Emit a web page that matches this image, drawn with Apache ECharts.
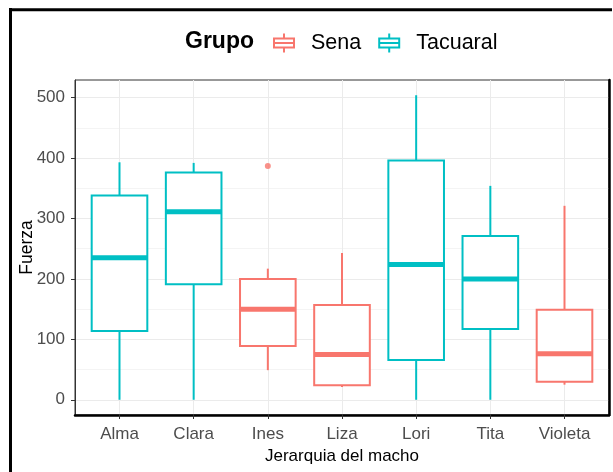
<!DOCTYPE html>
<html>
<head>
<meta charset="utf-8">
<script src="https://cdn.jsdelivr.net/npm/echarts@6/dist/echarts.min.js"></script>
<style>
  html, body { margin: 0; padding: 0; background: #fff; }
  #chart { width: 613px; height: 472px; }
</style>
</head>
<body>
<div id="chart"></div>
<script>
// Fuerza por hembra, agrupada por grupo
const categories = ['Alma', 'Clara', 'Ines', 'Liza', 'Lori', 'Tita', 'Violeta'];
const groups = ['Tacuaral', 'Tacuaral', 'Sena', 'Sena', 'Tacuaral', 'Tacuaral', 'Sena'];
const whiskerLow = [0, 0, 49, 21, 0, 0, 25];
const q1 = [114, 191, 89, 24, 66, 117, 30];
const median = [235, 311, 150, 75, 224, 200, 76];
const q3 = [338, 376, 200, 157, 396, 271, 149];
const whiskerHigh = [393, 392, 217, 243, 504, 354, 321];
const outlierCategory = ['Ines'];
const outlierValue = [387];
const yTicks = [0, 100, 200, 300, 400, 500];
const yMinorTicks = [50, 150, 250, 350, 450];

const FONT = '"Liberation Sans", Arial, sans-serif';
const colors = { Sena: '#F8766D', Tacuaral: '#00BFC4' };

// continuous padding of 5% around the data range, like ggplot's default expansion
const allVals = whiskerLow.concat(whiskerHigh, outlierValue);
const dMin = Math.min.apply(null, allVals);
const dMax = Math.max.apply(null, allVals);
const yLo = dMin - (dMax - dMin) * 0.05;
const yHi = dMax + (dMax - dMin) * 0.05;
const xPositions = categories.map((c, i) => i);

function rowsFor(group) {
  const rows = [];
  categories.forEach((c, i) => {
    if (groups[i] === group) {
      rows.push([i, whiskerLow[i], q1[i], median[i], q3[i], whiskerHigh[i]]);
    }
  });
  return rows;
}

// box + whiskers + thick median, no whisker caps
function renderBox(params, api) {
  const x = api.value(0);
  const half = api.size([1, 0])[0] * 0.375;
  const pLow = api.coord([x, api.value(1)]);
  const pQ1 = api.coord([x, api.value(2)]);
  const pMed = api.coord([x, api.value(3)]);
  const pQ3 = api.coord([x, api.value(4)]);
  const pHigh = api.coord([x, api.value(5)]);
  const color = api.visual('color');
  const lineStyle = { stroke: color, lineWidth: 2 };
  return {
    type: 'group',
    children: [
      { type: 'line', shape: { x1: pHigh[0], y1: pHigh[1], x2: pQ3[0], y2: pQ3[1] }, style: lineStyle },
      { type: 'line', shape: { x1: pQ1[0], y1: pQ1[1], x2: pLow[0], y2: pLow[1] }, style: lineStyle },
      { type: 'rect', shape: { x: pQ3[0] - half, y: pQ3[1], width: half * 2, height: pQ1[1] - pQ3[1] },
        style: { fill: '#fff', stroke: color, lineWidth: 2 } },
      { type: 'line', shape: { x1: pMed[0] - half, y1: pMed[1], x2: pMed[0] + half, y2: pMed[1] },
        style: { stroke: color, lineWidth: 5 } }
    ]
  };
}

const boxIcon = 'path://M1,5 H21 V14 H1 Z M1,9.5 H21 M11,0 V5 M11,14 V19';

const chart = echarts.init(document.getElementById('chart'), null, { renderer: 'canvas' });
chart.setOption({
  animation: false,
  backgroundColor: '#fff',
  title: {
    text: 'Grupo',
    left: 185,
    top: 30,
    padding: 0,
    textStyle: { fontFamily: FONT, fontWeight: 'bold', fontSize: 23, color: '#000' }
  },
  legend: {
    left: 273,
    top: 32,
    padding: 0,
    itemWidth: 20,
    itemHeight: 19,
    itemGap: 17,
    textStyle: { fontFamily: FONT, fontSize: 21.5, color: '#000', padding: [0, 0, 0, 12] },
    data: [
      { name: 'Sena', icon: boxIcon, itemStyle: { color: '#fff', borderColor: colors.Sena, borderWidth: 2 } },
      { name: 'Tacuaral', icon: boxIcon, itemStyle: { color: '#fff', borderColor: colors.Tacuaral, borderWidth: 2 } }
    ]
  },
  grid: {
    left: 75, right: 4, top: 80, bottom: 57,
    show: true, borderColor: '#333', borderWidth: 1, backgroundColor: 'transparent'
  },
  xAxis: {
    type: 'value',
    min: -0.6,
    max: categories.length - 1 + 0.6,
    axisLine: { show: true, onZero: false, lineStyle: { color: '#000', width: 2.5 } },
    axisTick: { show: true, length: 4, customValues: xPositions, lineStyle: { color: '#333' } },
    axisLabel: {
      customValues: xPositions,
      formatter: v => categories[Math.round(v)],
      margin: 11, fontFamily: FONT, fontSize: 17, color: '#4D4D4D'
    },
    splitLine: { show: true, lineStyle: { color: '#EBEBEB', width: 1 } },
    name: 'Jerarquia del macho',
    nameLocation: 'middle',
    nameGap: 32,
    nameTextStyle: { fontFamily: FONT, fontSize: 17, color: '#000' }
  },
  yAxis: [
    {
      type: 'value',
      min: yLo,
      max: yHi,
      position: 'left',
      axisLine: { show: true, onZero: false, lineStyle: { color: '#333', width: 1 } },
      axisTick: { show: true, length: 4, customValues: yTicks, lineStyle: { color: '#333' } },
      axisLabel: { customValues: yTicks, margin: 10, fontFamily: FONT, fontSize: 17, color: '#4D4D4D' },
      splitLine: { show: true, lineStyle: { color: '#EBEBEB', width: 1 } },
      name: 'Fuerza',
      nameLocation: 'middle',
      nameGap: 39,
      nameMoveOverlap: false,
      nameTextStyle: { fontFamily: FONT, fontSize: 17.5, color: '#000' }
    },
    {
      type: 'value',
      min: yLo,
      max: yHi,
      position: 'right',
      axisLine: { show: true, onZero: false, lineStyle: { color: '#000', width: 2.5 } },
      axisTick: { show: false, customValues: yMinorTicks },
      axisLabel: { show: false, customValues: yMinorTicks },
      splitLine: { show: true, lineStyle: { color: '#F4F4F4', width: 1 } }
    }
  ],
  graphic: [
    { type: 'line', shape: { x1: 10.5, y1: 8, x2: 10.5, y2: 472 }, style: { stroke: '#000', lineWidth: 3 } },
    { type: 'line', shape: { x1: 9, y1: 9.8, x2: 612, y2: 9.8 }, style: { stroke: '#000', lineWidth: 3 } }
  ],
  series: [
    {
      name: 'Sena',
      type: 'custom',
      xAxisIndex: 0, yAxisIndex: 0,
      itemStyle: { color: colors.Sena },
      renderItem: renderBox,
      encode: { x: 0, y: [1, 2, 3, 4, 5] },
      data: rowsFor('Sena')
    },
    {
      name: 'Tacuaral',
      type: 'custom',
      xAxisIndex: 0, yAxisIndex: 0,
      itemStyle: { color: colors.Tacuaral },
      renderItem: renderBox,
      encode: { x: 0, y: [1, 2, 3, 4, 5] },
      data: rowsFor('Tacuaral')
    },
    {
      name: 'Sena',
      type: 'scatter',
      xAxisIndex: 0, yAxisIndex: 0,
      symbol: 'circle',
      symbolSize: 6,
      itemStyle: { color: colors.Sena },
      data: outlierCategory.map((c, i) => [categories.indexOf(c), outlierValue[i]])
    }
  ]
});
</script>
</body>
</html>
